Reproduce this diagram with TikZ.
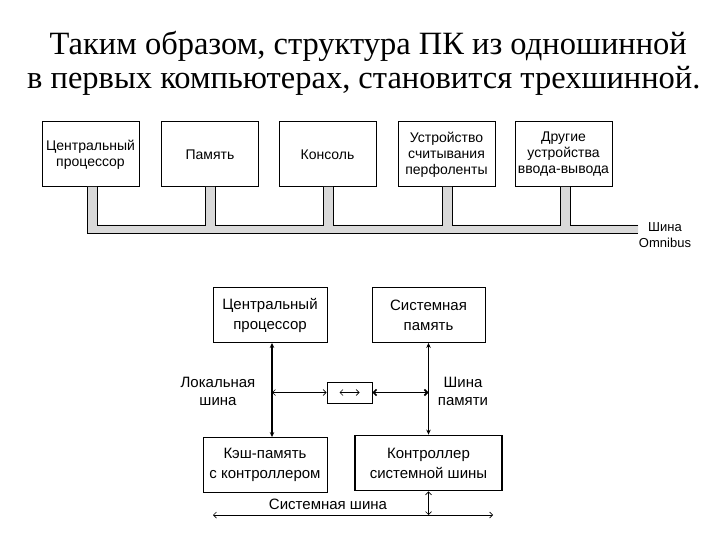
\documentclass[tikz,border=0pt]{standalone}
\usepackage{fontspec}
\setmainfont{Liberation Serif}
\setsansfont{Liberation Sans}
\usetikzlibrary{arrows.meta}

\begin{document}
\begin{tikzpicture}[
  x=1pt, y=-1pt,
  box/.style={draw, line width=1pt, minimum width=97pt, minimum height=65pt, align=center,
    inner sep=1pt, font=\sffamily\fontsize{14}{16}\selectfont},
  unit/.style={draw, line width=0.9pt, minimum height=55pt, align=center,
    inner sep=1pt, font=\sffamily\fontsize{15}{20}\selectfont},
  lbl/.style={align=center, font=\sffamily\fontsize{15}{18}\selectfont},
  line/.style={{Straight Barb[length=3pt,width=6pt]}-{Straight Barb[length=3pt,width=6pt]}, line width=0.7pt},
  vbus/.style={{Stealth[length=5pt,width=4.5pt]}-{Stealth[length=5pt,width=4.5pt]}, line width=1.8pt}
]
\useasboundingbox (0,0) rectangle (720,540);

% title
\node[anchor=base east, font=\fontsize{32.5}{36}\selectfont, inner sep=0pt] (head1) at (687,55)
  {Таким образом, структура ПК из одношинной};
\node[anchor=base west, font=\fontsize{32.5}{36}\selectfont, inner sep=0pt] (head2) at (27,89)
  {в первых компьютерах, становится трехшинной.};

% one bus
\node[box] (cpu1) at (90.5,154.5) {Центральный\\процессор};
\node[box] (mem1) at (210,154.5) {Память};
\node[box] (con1) at (327.5,154.5) {Консоль};
\node[box] (tape1) at (446.5,154.5) {Устройство\\считывания\\перфоленты};
\node[box] (io1) at (563.5,154.5) {Другие\\устройства\\ввода-вывода};

\fill[gray!30] (87,187) -- (87,233) -- (638,233) -- (638,225) -- (570,225) -- (570,187)
  -- (560,187) -- (560,225) -- (452,225) -- (452,187) -- (442,187) -- (442,225)
  -- (333,225) -- (333,187) -- (323,187) -- (323,225) -- (215,225) -- (215,187)
  -- (205,187) -- (205,225) -- (97,225) -- (97,187) -- cycle;
\draw[line width=0.8pt] (87,187) -- (87,233) -- (638,233);
\draw[line width=0.8pt] (638,225) -- (570,225) -- (570,187);
\draw[line width=0.8pt] (560,187) -- (560,225) -- (452,225) -- (452,187);
\draw[line width=0.8pt] (442,187) -- (442,225) -- (333,225) -- (333,187);
\draw[line width=0.8pt] (323,187) -- (323,225) -- (215,225) -- (215,187);
\draw[line width=0.8pt] (205,187) -- (205,225) -- (97,225) -- (97,187);

\node[align=center, font=\sffamily\fontsize{13}{16}\selectfont] (omni) at (665,235) {Шина\\Omnibus};

% three buses
\node[unit, minimum width=114pt] (cpu) at (270,315) {Центральный\\процессор};
\node[unit, minimum width=113pt] (mem) at (428.5,315) {Системная\\память};
\node[unit, minimum width=124pt] (cache) at (265,465) {Кэш-память\\с контроллером};
\node[unit, minimum width=147pt, line width=1.8pt] (ctrl) at (428.5,463) {Контроллер\\системной шины};
\node[draw, line width=0.9pt, minimum width=45pt, minimum height=21pt] (brg) at (349.5,392.5) {};

\coordinate (lt) at ([xshift=2pt]cpu.south);
\coordinate (lb) at (lt |- cache.north);
\draw[vbus] (lt) -- (lb);
\draw[vbus] (mem.south) -- (mem.south |- ctrl.north);
\draw[line] (lt |- brg) -- (brg.west);
\draw[line, line width=1.6pt] (brg.east) -- (mem.south |- brg);
\draw[line] ([xshift=-10pt]brg.center) -- ([xshift=10pt]brg.center);

\node[lbl] (loc) at (218,391) {Локальная\\шина};
\node[lbl] (memb) at (463,391) {Шина\\памяти};

\coordinate (sbl) at (213,515);
\coordinate (sbr) at (493,515);
\draw[line] (sbl) -- (sbr);
\draw[line] (ctrl.south) -- (ctrl.south |- sbl);
\node[lbl] (sys) at (328,504) {Системная шина};
\end{tikzpicture}
\end{document}
